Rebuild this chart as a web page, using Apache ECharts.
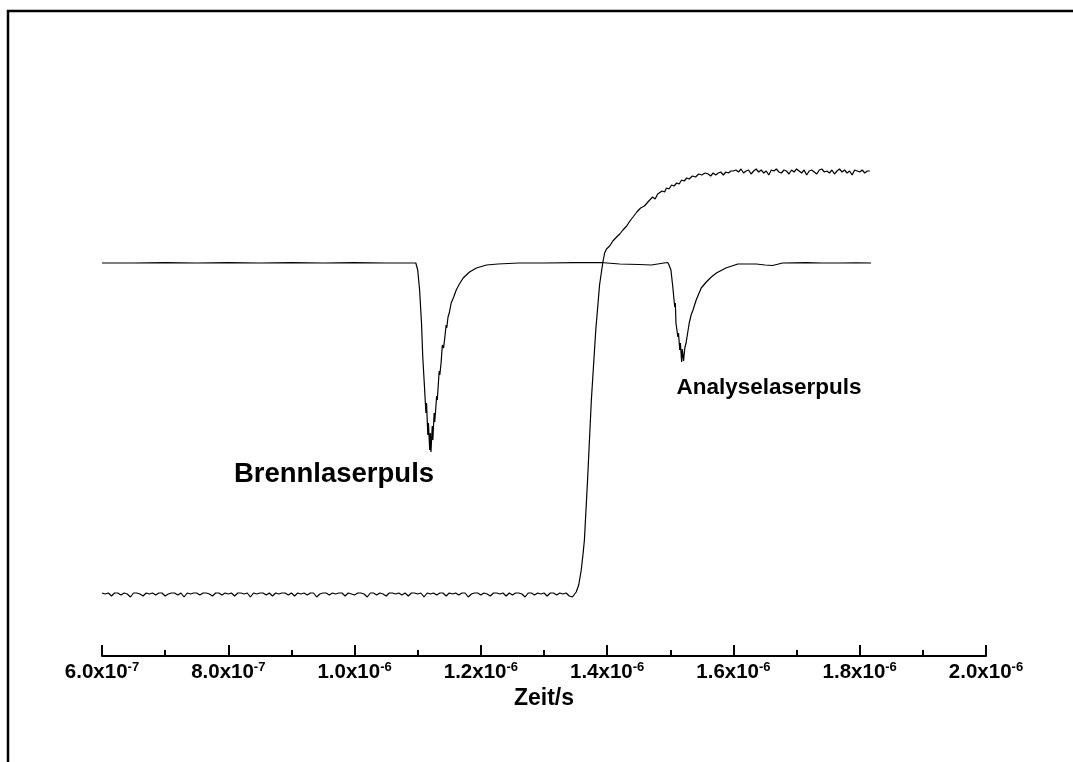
<!DOCTYPE html>
<html>
<head>
<meta charset="utf-8">
<script src="https://cdn.jsdelivr.net/npm/echarts@6/dist/echarts.min.js"></script>
<style>
  html, body { margin: 0; padding: 0; background: #fff; }
  #chart { width: 1073px; height: 762px; }
</style>
</head>
<body>
<div id="chart"></div>
<script>
// Time axis in ns; tick labels written as mantissa x 10^exponent (seconds)
const tickValues   = [600, 800, 1000, 1200, 1400, 1600, 1800, 2000];
const tickMantissa = ['6.0', '8.0', '1.0', '1.2', '1.4', '1.6', '1.8', '2.0'];
const tickExponent = ['-7', '-7', '-6', '-6', '-6', '-6', '-6', '-6'];

// Photodiode trace with both laser pulses: [t / ns, signal / a.u.]
const pulseTrace = [
  [600, 0], [650, 0], [700, 0.4], [750, 0], [800, 0.3], [850, 0], [900, 0.4], [950, 0],
  [1000, 0.3], [1050, 0], [1090, 0], [1097, 0],
  [1100, -7], [1103, -27], [1106, -60], [1108, -94], [1111, -127], [1113, -150],
  [1114, -140], [1116, -172], [1117, -160], [1119, -187], [1120, -170], [1121, -189],
  [1123, -163], [1124, -177], [1126, -150], [1127, -159], [1130, -133], [1131, -137],
  [1134, -108], [1135, -112], [1137, -100], [1139, -82], [1141, -85], [1143, -74],
  [1145, -62], [1146, -65], [1148, -54], [1150, -50], [1153, -40], [1157, -34],
  [1161, -27], [1166, -21], [1172, -15], [1182, -9], [1193, -5], [1209, -2],
  [1227, -1], [1260, 0], [1300, 0], [1350, 0.3], [1390, 0.5], [1420, -1],
  [1450, -1.5], [1470, -2], [1490, 0], [1496, 0.5],
  [1498, -2], [1501, -7], [1504, -24], [1507, -44], [1508, -40], [1509, -60],
  [1512, -74], [1513, -70], [1515, -87], [1516, -80], [1518, -99], [1519, -86],
  [1521, -98], [1523, -85], [1525, -80], [1527, -72], [1528, -74], [1530, -60],
  [1533, -52], [1534, -54], [1536, -47], [1541, -37], [1545, -31], [1549, -25],
  [1557, -19], [1565, -14], [1573, -10], [1588, -5], [1607, -1], [1636, -1],
  [1650, -2], [1662, -2.5], [1678, 0], [1715, 0.3], [1740, 0], [1768, 0],
  [1795, 0.2], [1818, 0]
];

// Step trace: baseline sampled every 5 ns from 600 ns to 1345 ns
const stepBaseStart = 600;
const stepBaseStep = 5;
const stepBaseline = [
  -330,-331,-330,-333,-330,-330,-332,-330,-331,-334,-330,-330,-331,-333,-330,
  -331,-330,-332,-330,-330,-333,-331,-330,-330,-332,-330,-334,-330,-331,-330,
  -330,-332,-330,-330,-331,-333,-330,-330,-332,-330,-331,-330,-333,-330,-330,
  -331,-330,-334,-330,-331,-330,-330,-332,-330,-333,-330,-331,-330,-330,-332,
  -330,-333,-330,-331,-330,-332,-330,-330,-334,-331,-330,-330,-332,-330,-331,
  -330,-330,-333,-330,-331,-332,-330,-330,-331,-334,-330,-330,-332,-330,-331,
  -333,-330,-330,-331,-330,-332,-330,-333,-330,-330,-331,-330,-334,-330,-331,
  -330,-332,-330,-330,-333,-330,-331,-330,-332,-330,-330,-334,-331,-330,-330,
  -332,-330,-331,-333,-330,-330,-331,-330,-333,-330,-332,-330,-330,-331,-334,
  -330,-330,-332,-330,-331,-330,-333,-330,-330,-332,-330,-331,-330,-333,-334
];

// Step trace: rising edge and saturation curve
const stepRise = [
  [1348, -334], [1351, -329], [1355, -322], [1359, -307], [1362, -290], [1364, -277],
  [1369, -217], [1375, -137], [1382, -67], [1388, -22], [1393, 0],
  [1396, 10], [1398, 12], [1399, 14], [1402, 13], [1404, 17], [1407, 18], [1409, 22],
  [1412, 21], [1415, 26], [1417, 25], [1420, 29], [1423, 27], [1425, 33], [1428, 32],
  [1431, 37], [1433, 36], [1436, 42], [1439, 40], [1441, 46], [1444, 45], [1447, 51],
  [1450, 49], [1453, 55], [1456, 54], [1459, 57], [1462, 56], [1466, 62], [1469, 60],
  [1472, 66], [1476, 64], [1480, 69], [1483, 68], [1487, 72], [1491, 71], [1494, 75],
  [1498, 74], [1502, 78], [1506, 77], [1510, 80], [1514, 79], [1518, 83], [1522, 82],
  [1526, 85], [1530, 84], [1535, 87], [1540, 86], [1545, 89], [1550, 88], [1555, 90]
];

// Step trace: plateau sampled every 4 ns from 1560 ns
const plateauStart = 1560;
const plateauStep = 4;
const stepPlateau = [
  89,87,90,88,90,91,88,91,90,92,92,93,91,94,90,92,93,89,92,94,91,93,90,92,88,
  93,92,94,91,90,93,92,89,93,91,94,92,90,93,88,92,93,91,89,93,94,91,92,90,93,
  89,92,94,91,93,90,92,88,93,92,91,93,90,92,92
];

// Annotation texts
const labelBurn = 'Brennlaserpuls';
const labelProbe = 'Analyselaserpuls';
const axisTitle = 'Zeit/s';

// Assemble step trace
const stepTrace = [];
stepBaseline.forEach((v, i) => stepTrace.push([stepBaseStart + i * stepBaseStep, v]));
stepRise.forEach(p => stepTrace.push(p));
stepPlateau.forEach((v, i) => stepTrace.push([plateauStart + i * plateauStep, v]));

const FONT = '"Liberation Sans", Arial, Helvetica, sans-serif';

const chart = echarts.init(document.getElementById('chart'), null, { renderer: 'canvas' });

chart.setOption({
  animation: false,
  backgroundColor: '#fff',
  grid: { left: 102, right: 87, top: 11, bottom: 106 },
  xAxis: {
    type: 'value',
    min: tickValues[0],
    max: tickValues[tickValues.length - 1],
    interval: 200,
    name: axisTitle,
    nameLocation: 'middle',
    nameGap: 28,
    nameTextStyle: { fontFamily: FONT, fontWeight: 'bold', fontSize: 23, color: '#000' },
    axisLine: { show: true, onZero: false, lineStyle: { color: '#000', width: 2 } },
    axisTick: { show: true, inside: true, length: 11, lineStyle: { color: '#000', width: 2 } },
    minorTick: { show: true, splitNumber: 2, length: 6, lineStyle: { color: '#000', width: 2 } },
    splitLine: { show: false },
    minorSplitLine: { show: false },
    axisLabel: {
      margin: 5,
      formatter: function (val) {
        const i = tickValues.indexOf(Math.round(val));
        if (i < 0) return '';
        return '{m|' + tickMantissa[i] + 'x10}{e|' + tickExponent[i] + '}';
      },
      rich: {
        m: { fontFamily: FONT, fontWeight: 'bold', fontSize: 20.5, color: '#000', lineHeight: 22 },
        e: { fontFamily: FONT, fontWeight: 'bold', fontSize: 13, color: '#000', verticalAlign: 'top', lineHeight: 13, padding: [0, 0, 6, 0] }
      }
    }
  },
  yAxis: {
    type: 'value',
    show: false,
    min: -393,
    max: 252
  },
  series: [
    {
      type: 'line',
      data: pulseTrace,
      showSymbol: false,
      lineStyle: { color: '#000', width: 1.2 },
      z: 3
    },
    {
      type: 'line',
      data: stepTrace,
      showSymbol: false,
      lineStyle: { color: '#000', width: 1.2 },
      z: 3
    }
  ],
  graphic: [
    {
      type: 'polyline',
      shape: { points: [[8, 762], [8, 11], [1073, 11]] },
      style: { stroke: '#000', lineWidth: 2.5, fill: null },
      silent: true
    },
    {
      type: 'text',
      style: {
        text: labelBurn, x: 334, y: 474,
        textAlign: 'center', textVerticalAlign: 'middle',
        font: 'bold 27.5px ' + FONT, fill: '#000'
      }
    },
    {
      type: 'text',
      style: {
        text: labelProbe, x: 769, y: 388,
        textAlign: 'center', textVerticalAlign: 'middle',
        font: 'bold 22.5px ' + FONT, fill: '#000'
      }
    }
  ]
});
</script>
</body>
</html>
